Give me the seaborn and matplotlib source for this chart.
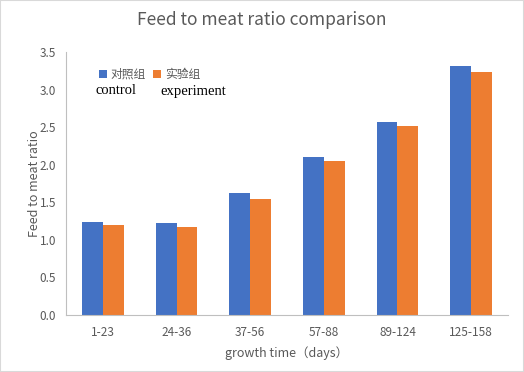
import matplotlib
matplotlib.use("Agg")
import matplotlib.pyplot as plt
import seaborn as sns
import pandas as pd
from matplotlib.patches import Rectangle

categories = ["1-23", "24-36", "37-56", "57-88", "89-124", "125-158"]
control = [1.24, 1.22, 1.62, 2.10, 2.57, 3.32]
experiment = [1.20, 1.17, 1.55, 2.05, 2.52, 3.24]
series_names = ["对照组", "实验组"]
yticks = [0.0, 0.5, 1.0, 1.5, 2.0, 2.5, 3.0, 3.5]

df = pd.DataFrame({
    "cat": categories * 2,
    "val": control + experiment,
    "grp": [series_names[0]] * len(categories) + [series_names[1]] * len(categories),
})

sns.set_style("white")
plt.rcParams['font.family'] = ['Noto Sans CJK SC', 'DejaVu Sans']

fig = plt.figure(figsize=(5.24, 3.72), dpi=100)
ax = fig.add_axes([66/524, 1 - 315/372, 442/524, 263/372])
colors = ["#4472C4", "#ED7D31"]
sns.barplot(data=df, x="cat", y="val", hue="grp", palette=colors, width=0.57,
            gap=0, saturation=1, ax=ax, legend=True, edgecolor="none")
ax.set_ylim(0, 3.5)
ax.set_yticks(yticks)
ax.set_yticklabels([f"{t:.1f}" for t in yticks])
ax.set_xlim(-0.5, len(categories) - 0.5)
gray = "#595959"
ax.tick_params(axis="both", colors=gray, labelsize=8.5, length=0)
ax.tick_params(axis="y", pad=7)
ax.tick_params(axis="x", pad=8)
for s in ["top", "right"]:
    ax.spines[s].set_visible(False)
for s in ["left", "bottom"]:
    ax.spines[s].set_color("#BFBFBF")
    ax.spines[s].set_linewidth(0.8)
ax.set_xlabel("growth time（days）", color=gray, fontsize=9, labelpad=5)
ax.set_ylabel("Feed to meat ratio", color=gray, fontsize=9, labelpad=-1)

leg = ax.legend(loc="upper left", bbox_to_anchor=(0.05, 0.98), frameon=False,
                ncol=2, fontsize=8.5, handlelength=0.7, handleheight=0.7,
                columnspacing=0.6, handletextpad=0.3)
for t in leg.get_texts():
    t.set_color(gray)

fig.text(95/524, 1 - 91/372, "control", family="Liberation Serif", fontsize=10.5,
         color="black", va="center")
fig.text(160/524, 1 - 91/372, "experiment", family="Liberation Serif", fontsize=10.5,
         color="black", va="center")

fig.text(0.5, 1 - 20/372, "Feed to meat ratio comparison", ha="center", va="center",
         fontsize=12.5, color=gray)

fig.patches.append(Rectangle((0, 0), 1, 1, transform=fig.transFigure, fill=False,
                             edgecolor="#D9D9D9", linewidth=1.5))
fig.savefig("out.png", dpi=100)
